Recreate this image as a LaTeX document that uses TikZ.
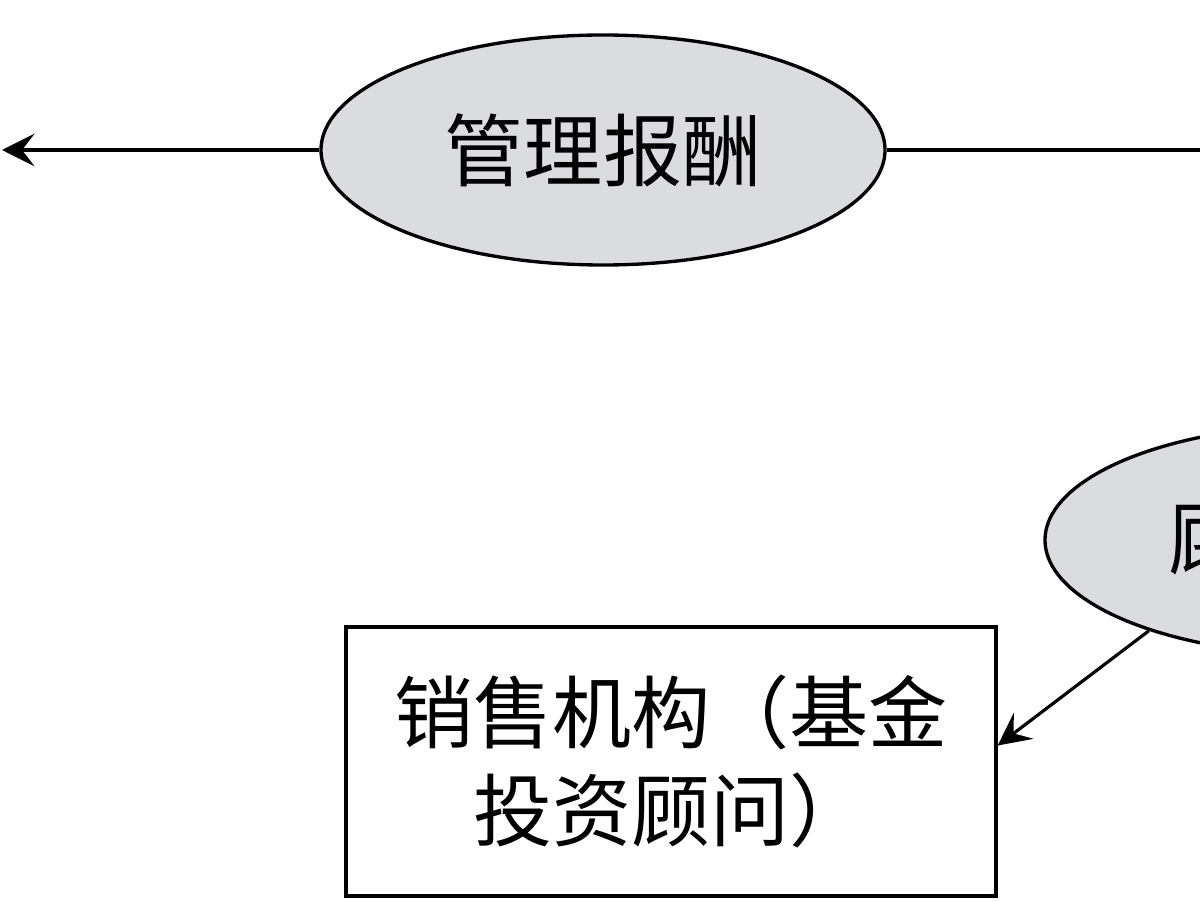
\documentclass[tikz,border=0pt]{standalone}
\usepackage{fontspec}
\setmainfont{Noto Sans CJK SC}
\usetikzlibrary{arrows.meta,shapes.geometric}
\definecolor{feegray}{RGB}{218,220,223}

\begin{document}
\begin{tikzpicture}[x=1cm,y=1cm]
\tikzset{
  feenode/.style={ellipse,draw,line width=1.9pt,fill=feegray,minimum width=11.28cm,minimum height=4.6cm,inner sep=0pt,font=\fontsize{45}{56}\selectfont},
  boxnode/.style={rectangle,draw,line width=1.9pt,minimum width=13cm,minimum height=5.38cm,align=center,font=\fontsize{45}{56}\selectfont},
  directed/.style={-{Stealth[length=6.5mm,width=6.5mm,inset=2.5mm]},line width=1.8pt},
  undirected/.style={line width=1.8pt}
}
\useasboundingbox (0,0) rectangle (24,18);
\clip (0,0) rectangle (24,18);
\node[feenode] (n_mgmt) at (12.06,15.0) {管理报酬};
\node[feenode] (n_adv) at (26.54,7.2) {};
\node[anchor=west,inner sep=0pt,font=\fontsize{45}{56}\selectfont] (n_advtext) at (23.36,7.2) {顾};
\node[boxnode] (n_sales) at (13.42,2.77) {销售机构（基金\\投资顾问）};
\coordinate (c_left) at (0.04,15.0);
\coordinate (c_right) at (24,15.0);
\draw[directed] (n_mgmt) -- (c_left);
\draw[undirected] (n_mgmt) -- (c_right);
\draw[directed] (n_adv.207.6) -- ([yshift=3.2mm]n_sales.east);
\end{tikzpicture}
\end{document}
